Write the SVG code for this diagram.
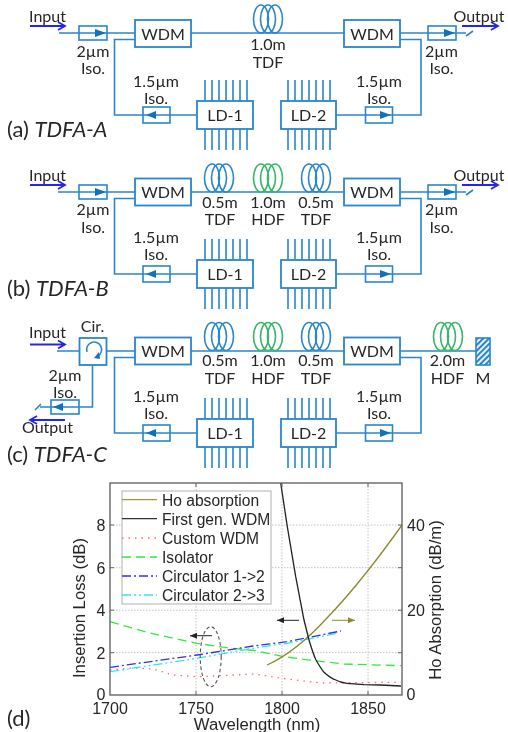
<svg xmlns="http://www.w3.org/2000/svg" width="508" height="732" viewBox="0 0 508 732">
<style>
.b{fill:none;stroke:#2a86cc;stroke-width:1.6}
.box{fill:#fff;stroke:#2a86cc;stroke-width:1.8}
.g{fill:none;stroke:#35b865;stroke-width:1.6}
.f{fill:#0f72bd}
.in{fill:none;stroke:#2424ee;stroke-width:1.8}
text{font-family:Lato,"Open Sans",sans-serif;font-size:16px;fill:#262626;text-anchor:middle}
.cap{font-size:22px;text-anchor:start}
.cap tspan{font-style:italic}
.p{font-family:"Liberation Sans",Arial,sans-serif;font-size:16px}
.ax{font-family:"Liberation Sans",Arial,sans-serif;font-size:16.7px}
.tl{font-family:"Liberation Sans",Arial,sans-serif;font-size:15.6px;text-anchor:start}
.grid{stroke:#c4c4c4;stroke-width:1;stroke-dasharray:1.5 1.5;fill:none}
.c{fill:none;stroke-width:1.3}
</style>
<defs>
<filter id="soft" x="0" y="0" width="100%" height="100%" filterUnits="objectBoundingBox" color-interpolation-filters="sRGB"><feGaussianBlur stdDeviation="0.45"/></filter>
<g id="pins"><path class="b" d="M0-21V49M7-21V49M14-21V49M21-21V49M28-21V49M35-21V49M42-21V49"/></g>
<g id="coilT"><ellipse class="b" cx="0" cy="0" rx="7.5" ry="14"/><ellipse class="b" cx="7" cy="0" rx="7.5" ry="14"/><ellipse class="b" cx="14" cy="0" rx="7.5" ry="14"/></g>
<g id="coilH"><ellipse class="g" cx="0" cy="0" rx="7.5" ry="14"/><ellipse class="g" cx="7" cy="0" rx="7.5" ry="14"/><ellipse class="g" cx="14" cy="0" rx="7.5" ry="14"/></g>
<polygon id="tr" class="f" points="0,-4 11,0 0,4"/>
<polygon id="tl" class="f" points="0,-4 -10,0 0,4"/>
<marker id="ab" markerWidth="8" markerHeight="8" refX="7" refY="4" orient="auto" markerUnits="userSpaceOnUse"><polygon points="0,1 7,4 0,7" fill="#222"/></marker>
<marker id="ao" markerWidth="8" markerHeight="8" refX="7" refY="4" orient="auto" markerUnits="userSpaceOnUse"><polygon points="0,1 7,4 0,7" fill="#8d8a2c"/></marker>
<pattern id="hatch" width="4" height="4" patternUnits="userSpaceOnUse" patternTransform="rotate(-45)"><rect width="4" height="4" fill="#fff"/><rect width="4" height="2.2" fill="#2a86cc"/></pattern>
</defs>
<rect width="508" height="732" fill="#fff"/>
<g filter="url(#soft)">
<rect width="508" height="732" fill="#fff"/>
<g id="connectors">
<path class="b" d="M59 33H135M191 33H344M400 33H466M466 36L473 31M135 39.5H114.5V115H197M336 115H421V39.5H400"/>
<path class="in" d="M30 26H65M58 22L65 26L58 30M462 26H498M491 22L498 26L491 30"/>
<path class="b" d="M58 192H135M191 192H344M400 192H466M466 195L473 190M135 198.5H114.5V274H197M336 274H421V198.5H400"/>
<path class="in" d="M30 185H65M58 181L65 185L58 189M462 185H498M491 181L498 185L491 189"/>
<path class="b" d="M57 351H79M107 351H135M191 351H344M400 351H476M135 357.5H114.5V433H197M336 433H421V357.5H400M92.5 365V407H40M35 410L41 404"/>
<path class="in" d="M30 344.5H65M58 340.5L65 344.5L58 348.5M65 420H30M37 416L30 420L37 424"/>
</g>

<g id="a-input"><text x="47.5" y="22">Input</text></g>
<g id="a-iso1"><rect class="b" x="79" y="26" width="28" height="14"/><use href="#tr" x="95" y="33"/><text x="93" y="56.5">2µm</text><text x="93" y="74">Iso.</text></g>
<g id="a-wdm1"><rect class="box" x="135" y="20" width="56" height="27"/><text x="163" y="39.5">WDM</text></g>
<g id="a-coil"><use href="#coilT" x="261" y="19"/><text x="268" y="50">1.0m</text><text x="268" y="68">TDF</text></g>
<g id="a-wdm2"><rect class="box" x="344" y="20" width="56" height="27"/><text x="372" y="39.5">WDM</text></g>
<g id="a-iso2"><rect class="b" x="428" y="26" width="28" height="14"/><use href="#tr" x="444" y="33"/><text x="441.5" y="56.5">2µm</text><text x="441.5" y="74">Iso.</text></g>
<g id="a-output"><text x="479" y="22">Output</text></g>
<g id="a-iso3"><rect class="b" x="143" y="107" width="27" height="16"/><use href="#tl" x="156" y="115"/><text x="156" y="87">1.5µm</text><text x="156" y="104">Iso.</text></g>
<g id="a-ld1"><use href="#pins" x="205" y="101"/><rect class="box" x="197" y="101" width="56" height="28"/><text x="225" y="121">LD-1</text></g>
<g id="a-ld2"><use href="#pins" x="288" y="101"/><rect class="box" x="281" y="101" width="55" height="28"/><text x="308.5" y="121">LD-2</text></g>
<g id="a-iso4"><rect class="b" x="365.5" y="107" width="27" height="16"/><use href="#tr" x="380" y="115"/><text x="379" y="87">1.5µm</text><text x="379" y="104">Iso.</text></g>
<text class="cap" x="7" y="136.5">(a) <tspan>TDFA-A</tspan></text>

<g id="b-input"><text x="47.5" y="181">Input</text></g>
<g id="b-iso1"><rect class="b" x="79" y="185" width="28" height="14"/><use href="#tr" x="95" y="192"/><text x="93" y="215">2µm</text><text x="93" y="232.5">Iso.</text></g>
<g id="b-wdm1"><rect class="box" x="135" y="178.5" width="56" height="27"/><text x="163" y="198">WDM</text></g>
<g id="b-coil1"><use href="#coilT" x="212" y="178"/><text x="220" y="207.5">0.5m</text><text x="220" y="225">TDF</text></g>
<g id="b-coil2"><use href="#coilH" x="261" y="178"/><text x="268" y="207.5">1.0m</text><text x="268" y="225">HDF</text></g>
<g id="b-coil3"><use href="#coilT" x="309" y="178"/><text x="316" y="207.5">0.5m</text><text x="316" y="225">TDF</text></g>
<g id="b-wdm2"><rect class="box" x="344" y="178.5" width="56" height="27"/><text x="372" y="198">WDM</text></g>
<g id="b-iso2"><rect class="b" x="428" y="185" width="28" height="14"/><use href="#tr" x="444" y="192"/><text x="441.5" y="215">2µm</text><text x="441.5" y="232.5">Iso.</text></g>
<g id="b-output"><text x="479" y="181">Output</text></g>
<g id="b-iso3"><rect class="b" x="143" y="266" width="27" height="16"/><use href="#tl" x="156" y="274"/><text x="156" y="242.5">1.5µm</text><text x="156" y="260">Iso.</text></g>
<g id="b-ld1"><use href="#pins" x="205" y="260"/><rect class="box" x="197" y="260" width="56" height="28"/><text x="225" y="280">LD-1</text></g>
<g id="b-ld2"><use href="#pins" x="288" y="260"/><rect class="box" x="281" y="260" width="55" height="28"/><text x="308.5" y="280">LD-2</text></g>
<g id="b-iso4"><rect class="b" x="365.5" y="266" width="27" height="16"/><use href="#tr" x="380" y="274"/><text x="379" y="242.5">1.5µm</text><text x="379" y="260">Iso.</text></g>
<text class="cap" x="7" y="295.5">(b) <tspan>TDFA-B</tspan></text>

<g id="c-input"><text x="47.5" y="338">Input</text></g>
<g id="c-cir"><rect class="box" x="79.5" y="338" width="27" height="27"/><path class="b" d="M87 352A7.5 7.5 0 1 1 98 356"/><polygon class="f" points="99,352 100,359 94,358"/><text x="92.5" y="332">Cir.</text></g>
<g id="c-iso1"><rect class="b" x="51" y="400" width="28" height="14"/><use href="#tl" x="63" y="407"/><text x="65" y="381">2µm</text><text x="65" y="398">Iso.</text></g>
<g id="c-output"><text x="47.5" y="433">Output</text></g>
<g id="c-wdm1"><rect class="box" x="135" y="337.5" width="56" height="27"/><text x="163" y="357">WDM</text></g>
<g id="c-coil1"><use href="#coilT" x="212" y="336.5"/><text x="220" y="366">0.5m</text><text x="220" y="384">TDF</text></g>
<g id="c-coil2"><use href="#coilH" x="261" y="336.5"/><text x="268" y="366">1.0m</text><text x="268" y="384">HDF</text></g>
<g id="c-coil3"><use href="#coilT" x="309" y="336.5"/><text x="316" y="366">0.5m</text><text x="316" y="384">TDF</text></g>
<g id="c-wdm2"><rect class="box" x="344" y="337.5" width="56" height="27"/><text x="372" y="357">WDM</text></g>
<g id="c-coil4"><use href="#coilH" x="441" y="336.5"/><text x="447.5" y="366">2.0m</text><text x="447.5" y="384">HDF</text></g>
<g id="c-mirror"><rect x="476" y="338" width="14" height="27" fill="url(#hatch)" stroke="#2a86cc" stroke-width="1.6"/><text x="483" y="384">M</text></g>
<g id="c-iso3"><rect class="b" x="143" y="425" width="27" height="16"/><use href="#tl" x="156" y="433"/><text x="156" y="401.5">1.5µm</text><text x="156" y="419">Iso.</text></g>
<g id="c-ld1"><use href="#pins" x="205" y="419"/><rect class="box" x="197" y="419" width="56" height="28"/><text x="225" y="439">LD-1</text></g>
<g id="c-ld2"><use href="#pins" x="288" y="419"/><rect class="box" x="281" y="419" width="55" height="28"/><text x="308.5" y="439">LD-2</text></g>
<g id="c-iso4"><rect class="b" x="365.5" y="425" width="27" height="16"/><use href="#tr" x="380" y="433"/><text x="379" y="401.5">1.5µm</text><text x="379" y="419">Iso.</text></g>
<text class="cap" x="7" y="461.5">(c) <tspan>TDFA-C</tspan></text>

<g id="chart">
<path class="grid" d="M196 483V695M282 483V695M368 483V695M110 652.7H402M110 610.2H402M110 567.7H402M110 525H402"/>
<g id="curves">
<path class="c" stroke="#ff6b6b" stroke-width="1.4" stroke-dasharray="1.5 5" d="M110 670L133 668L153 669L173 675L197 676.7L220 675.7L254 674L287 679L321 683L347 682.7L401 682.3"/>
<path class="c" stroke="#35e83c" stroke-width="1.5" stroke-dasharray="9 5" d="M110 621.7L150 633L197 643.3L227 647.7L254 650.5L284 656.7L314 660.7L344 664L401 665.7"/>
<path class="c" stroke="#2f2fee" stroke-width="1.6" stroke-dasharray="9 3 2 3" d="M110 667.3L197 655L253 646L287 641.7L341 631"/>
<path class="c" stroke="#2fe8ee" stroke-width="1.5" stroke-dasharray="9 3 2 3 2 3" d="M110 671.7L197 658.3L253 648.3L287 643.3L337 633.3"/>
<path class="c" stroke="#8d8a2c" d="M267 665C285 657 305 642 327 618C352 592 380 556 402 525"/>
<path class="c" stroke="#222" d="M280.7 483L287.3 526.7L295.7 576.7L304 620C306 628 308 636 309 640C312 650 314 656 316 660C320 667 322 670 324 672.3C328 676 332 678.5 334 679.3C339 682 343 683 347 683.3L364 684.7L380 685L401 686"/>
</g>
<ellipse cx="210.7" cy="656.7" rx="10.5" ry="30" fill="none" stroke="#555" stroke-width="1.1" stroke-dasharray="3.5 2.5"/>
<path d="M212 635.7H190" stroke="#222" fill="none" marker-end="url(#ab)"/>
<path d="M299 620.3H277" stroke="#222" fill="none" marker-end="url(#ab)"/>
<path d="M332 620.3H355" stroke="#8d8a2c" fill="none" marker-end="url(#ao)"/>
<rect x="110" y="483" width="292" height="212" fill="none" stroke="#666" stroke-width="1.4"/>
<path d="M196 695V691M282 695V691M368 695V691M196 483V487M282 483V487M368 483V487M110 652.7H114M110 610.2H114M110 567.7H114M110 525H114M402 652.7H398M402 610.2H398M402 567.7H398M402 525H398" stroke="#666" fill="none"/>
<g id="legend">
<rect x="122" y="491" width="149" height="113" fill="#fff" stroke="#bdbdbd" stroke-width="1.2"/>
<path class="c" stroke="#a09a3a" stroke-width="1.6" d="M122 499.7H157"/>
<path class="c" stroke="#333" d="M122 518.7H157"/>
<path class="c" stroke="#ff6b6b" stroke-width="1.4" stroke-dasharray="1.5 5" d="M122 538H157"/>
<path class="c" stroke="#35e83c" stroke-width="1.5" stroke-dasharray="9 5" d="M122 557H157"/>
<path class="c" stroke="#2f2fee" stroke-width="1.6" stroke-dasharray="9 3 2 3" d="M122 576H157"/>
<path class="c" stroke="#2fe8ee" stroke-width="1.5" stroke-dasharray="9 3 2 3 2 3" d="M122 595H157"/>
<text class="tl" x="162" y="505.5">Ho absorption</text>
<text class="tl" x="162" y="524.5">First gen. WDM</text>
<text class="tl" x="162" y="543.5">Custom WDM</text>
<text class="tl" x="162" y="562.5">Isolator</text>
<text class="tl" x="162" y="581.5">Circulator 1-&gt;2</text>
<text class="tl" x="162" y="600.5">Circulator 2-&gt;3</text>
</g>
<text class="p" x="101" y="531">8</text>
<text class="p" x="101" y="573.5">6</text>
<text class="p" x="101" y="616">4</text>
<text class="p" x="101" y="658.5">2</text>
<text class="p" x="101" y="699.5">0</text>
<text class="p" x="110" y="714">1700</text>
<text class="p" x="196" y="714">1750</text>
<text class="p" x="282" y="714">1800</text>
<text class="p" x="368" y="714">1850</text>
<text class="p" x="416" y="531">40</text>
<text class="p" x="416" y="616">20</text>
<text class="p" x="411" y="699.5">0</text>
<text class="ax" transform="translate(85 608) rotate(-90)">Insertion Loss (dB)</text>
<text class="ax" transform="translate(441 600) rotate(-90)">Ho Absorption (dB/m)</text>
<text class="ax" x="257" y="729.5">Wavelength (nm)</text>
</g>
<text class="cap" x="7" y="726">(d)</text>
</g>
</svg>
